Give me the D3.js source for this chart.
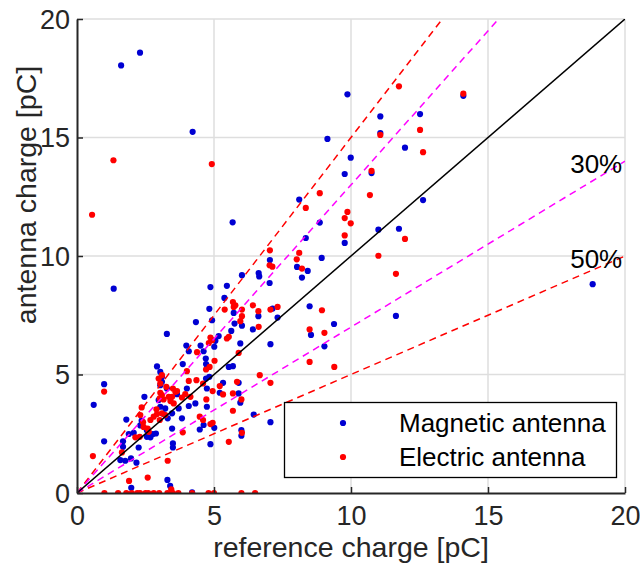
<!DOCTYPE html>
<html>
<head>
<meta charset="utf-8">
<script src="https://cdn.jsdelivr.net/npm/d3@7/dist/d3.min.js"></script>
<style>
  html, body { margin: 0; padding: 0; background: #fff; }
  svg { display: block; font-family: "Liberation Sans", Arial, sans-serif; }
</style>
</head>
<body>
<svg id="chart" width="640" height="566"></svg>
<script>
// ---------------- data ----------------
const magneticX = [1.61,2.30,4.22,5.68,9.87,9.14,9.99,9.77,8.11,8.86,8.35,9.77,7.04,8.93,
  14.1,11.07,12.52,11.07,11.97,10.75,12.63,11.0,11.75,11.64,18.82,
  1.34,0.61,0.99,0.99,2.92,3.28,2.46,1.80,1.68,1.68,1.58,1.76,1.97,2.17,2.25,1.89,2.07,2.31,2.36,2.55,2.68,2.77,2.88,2.55,
  3.04,3.10,3.10,3.04,3.28,2.98,3.04,3.22,3.31,3.16,3.47,3.47,3.50,3.50,3.65,3.71,3.86,3.99,4.08,4.34,4.51,4.62,4.70,4.71,4.74,
  4.87,4.83,4.93,5.01,5.05,5.17,4.71,4.83,4.74,4.74,4.01,4.08,4.32,3.83,4.48,4.62,5.01,4.87,5.33,5.21,5.54,5.69,5.38,5.47,5.72,5.75,5.63,
  6.02,6.02,5.96,5.90,5.90,5.96,6.00,6.00,6.42,6.62,6.63,6.65,6.45,7.03,7.06,7.06,7.14,7.32,8.03,8.21,8.42,8.49,8.54,9.03,9.38,
  1.98,3.30,3.40,4.20,0.0];
const magneticY = [18.04,18.58,15.24,11.42,16.82,14.94,14.15,13.46,12.38,11.41,10.76,10.55,9.83,9.92,
  16.76,15.89,15.99,15.19,14.57,13.50,12.36,11.11,11.15,7.47,8.81,
  8.62,3.72,4.59,2.18,5.34,6.71,4.06,3.10,2.18,1.95,1.39,1.36,1.46,1.28,1.92,2.49,2.54,2.85,3.05,2.65,2.35,2.49,2.51,2.37,
  5.11,4.90,4.69,4.55,4.41,3.92,3.64,3.57,3.15,3.33,3.36,2.72,2.09,1.92,4.17,3.57,5.44,6.22,5.98,7.21,6.22,5.98,5.67,5.44,5.27,
  8.69,7.77,7.29,6.17,6.42,6.62,4.83,4.90,4.41,3.64,4.41,3.67,3.78,3.15,2.68,2.87,2.75,2.06,4.65,4.23,5.32,5.35,8.23,8.74,7.60,7.15,6.84,
  9.19,7.06,6.31,4.65,4.20,3.81,2.65,2.42,6.90,7.46,9.28,9.14,3.31,8.86,6.28,2.99,7.78,7.40,9.54,9.09,9.37,7.88,6.67,6.19,7.13,
  0.22,0.55,0.30,0.03,0.0];

const electricX = [1.33,4.92,0.55,8.86,8.35,9.87,9.77,9.99,9.77,7.04,8.11,8.02,11.75,14.1,11.07,12.52,12.63,10.75,10.69,11.97,11.0,11.64,7.13,
  0.58,0.99,1.64,1.90,2.58,3.31,2.36,2.31,2.41,2.43,2.58,2.62,2.29,2.13,2.68,2.80,2.90,2.92,3.02,3.10,3.22,3.04,3.10,3.02,3.16,3.35,3.41,3.47,3.53,3.59,3.50,
  2.98,3.10,3.04,3.26,3.65,3.95,4.01,4.08,3.83,4.14,4.38,4.36,4.60,4.71,4.84,4.81,4.87,4.93,5.02,4.95,5.21,5.33,4.48,4.60,4.72,4.87,4.95,3.86,
  5.69,5.69,5.54,5.39,5.47,5.54,5.69,5.72,5.78,6.02,6.02,5.96,5.90,5.84,6.00,6.02,6.42,6.62,6.63,6.67,7.06,7.32,7.06,7.03,8.21,8.49,8.49,8.94,9.03,9.39,
  0.0,1.0,1.5,1.8,2.0,2.2,2.3,2.5,2.6,2.8,3.0,3.3,3.5,3.7,4.2,4.8,5.0,6.0,6.5,3.44];
const electricY = [14.04,13.88,11.74,12.65,12.03,11.86,11.60,11.38,10.87,10.24,10.13,9.86,17.16,16.85,15.11,15.32,14.38,13.59,12.57,10.72,10.01,9.25,9.55,
  1.56,4.28,1.71,0.51,0.65,1.36,3.61,3.29,2.99,2.79,2.72,2.58,2.37,2.35,3.08,3.22,3.53,3.33,3.08,3.36,3.29,4.23,4.13,3.99,3.95,4.06,3.88,4.06,3.78,4.27,4.41,
  4.83,4.97,4.62,4.48,4.30,4.17,5.14,4.73,4.03,4.06,5.94,4.76,4.62,5.21,5.32,6.33,6.56,6.45,5.58,4.30,4.51,4.16,3.22,3.08,3.95,2.91,2.96,2.56,
  4.20,3.47,2.16,7.74,6.52,6.59,8.06,7.85,7.92,7.74,7.46,7.25,5.91,4.69,3.95,2.54,7.92,7.67,7.01,4.97,7.74,7.85,4.65,9.61,9.47,6.90,5.53,7.71,6.76,5.32,
  0,0,0,0,0,0,0,0,0,0,0,0,0,0,0,0,0,0,0,0.15];

const seriesNames = ["Magnetic antenna", "Electric antenna"];
const ticks = [0, 5, 10, 15, 20];
const referenceSlopes = [1.5, 0.5, 1.3, 0.7];   // 50% and 30% bands
const bandLabels = ["30%", "50%"];
const bandLabelPos = [[18.0, 13.5], [18.0, 9.5]];
const xTitle = "reference charge [pC]";
const yTitle = "antenna charge [pC]";

// ---------------- layout ----------------
const svg = d3.select("#chart");
const L = 77, R = 625, T = 19, B = 493;
const x = d3.scaleLinear().domain([0, 20]).range([L, R]);
const y = d3.scaleLinear().domain([0, 20]).range([B, T]);
const axisColor = "#262626";
const gridColor = "#dedede";
const blue = "#0000d2", red = "#ff0000", magenta = "#ff00ff";
const rDot = 3.1;

svg.append("defs").append("clipPath").attr("id", "clip")
  .append("rect").attr("x", L).attr("y", T).attr("width", R - L).attr("height", B - T);

// grid
const grid = svg.append("g");
grid.selectAll(".gx").data(ticks.filter(t => t > 0)).enter().append("line")
  .attr("x1", d => x(d)).attr("x2", d => x(d)).attr("y1", T).attr("y2", B)
  .attr("stroke", gridColor).attr("stroke-width", 1.5);
grid.selectAll(".gy").data(ticks.filter(t => t > 0)).enter().append("line")
  .attr("y1", d => y(d)).attr("y2", d => y(d)).attr("x1", L).attr("x2", R)
  .attr("stroke", gridColor).attr("stroke-width", 1.5);

// points
const plot = svg.append("g").attr("clip-path", "url(#clip)");
const magData = magneticX.map((v, i) => [v, magneticY[i]]);
const eleData = electricX.map((v, i) => [v, electricY[i]]);
plot.selectAll(".m").data(magData).enter().append("circle")
  .attr("cx", d => x(d[0])).attr("cy", d => y(d[1])).attr("r", rDot).attr("fill", blue);
plot.selectAll(".e").data(eleData).enter().append("circle")
  .attr("cx", d => x(d[0])).attr("cy", d => y(d[1])).attr("r", rDot).attr("fill", red);

// reference lines
const lineGen = d3.line().x(d => x(d[0])).y(d => y(d[1]));
const lineColors = [red, red, magenta, magenta];
referenceSlopes.forEach((s, i) => {
  const xe = Math.min(20, 20 / s);
  plot.append("path").attr("d", lineGen([[0, 0], [xe, xe * s]]))
    .attr("fill", "none").attr("stroke", lineColors[i]).attr("stroke-width", 1.5)
    .attr("stroke-dasharray", "7,5");
});
plot.append("path").attr("d", lineGen([[0, 0], [20, 20]]))
  .attr("fill", "none").attr("stroke", "#000").attr("stroke-width", 1.5);

// axes
const xAxis = d3.axisBottom(x).tickValues(ticks).tickSizeInner(-6).tickSizeOuter(0).tickPadding(13);
const yAxis = d3.axisLeft(y).tickValues(ticks).tickSizeInner(-6).tickSizeOuter(0).tickPadding(7);
const gx = svg.append("g").attr("transform", `translate(0,${B})`).call(xAxis);
const gy = svg.append("g").attr("transform", `translate(${L},0)`).call(yAxis);
[gx, gy].forEach(g => {
  g.select(".domain").attr("stroke", axisColor).attr("stroke-width", 2);
  g.selectAll(".tick line").attr("stroke", axisColor).attr("stroke-width", 1.5);
  g.selectAll(".tick text").attr("fill", axisColor).style("font-size", "27px")
    .style("font-family", "'Liberation Sans', Arial, sans-serif");
});
gx.selectAll(".tick text").attr("dy", "0.71em");
gy.selectAll(".tick text").attr("dy", "0.35em");

// titles
svg.append("text").attr("x", (L + R) / 2).attr("y", 557).attr("text-anchor", "middle")
  .attr("fill", axisColor).style("font-size", "28.5px").text(xTitle);
svg.append("text").attr("transform", `translate(36,195) rotate(-90)`)
  .attr("text-anchor", "middle").attr("fill", axisColor).style("font-size", "28.5px").text(yTitle);

// band labels
bandLabels.forEach((t, i) => {
  svg.append("text").attr("x", x(bandLabelPos[i][0])).attr("y", y(bandLabelPos[i][1]))
    .attr("fill", "#000").style("font-size", "26px").text(t);
});

// legend
const lg = svg.append("g");
lg.append("rect").attr("x", 284.5).attr("y", 402.5).attr("width", 332).attr("height", 75)
  .attr("fill", "#fff").attr("stroke", "#000").attr("stroke-width", 1.3);
[blue, red].forEach((c, i) => {
  const yy = 423 + i * 34;
  lg.append("circle").attr("cx", 343).attr("cy", yy).attr("r", rDot).attr("fill", c);
  lg.append("text").attr("x", 399).attr("y", yy).attr("dy", "0.35em")
    .attr("fill", "#000").style("font-size", "26px").text(seriesNames[i]);
});
</script>
</body>
</html>
